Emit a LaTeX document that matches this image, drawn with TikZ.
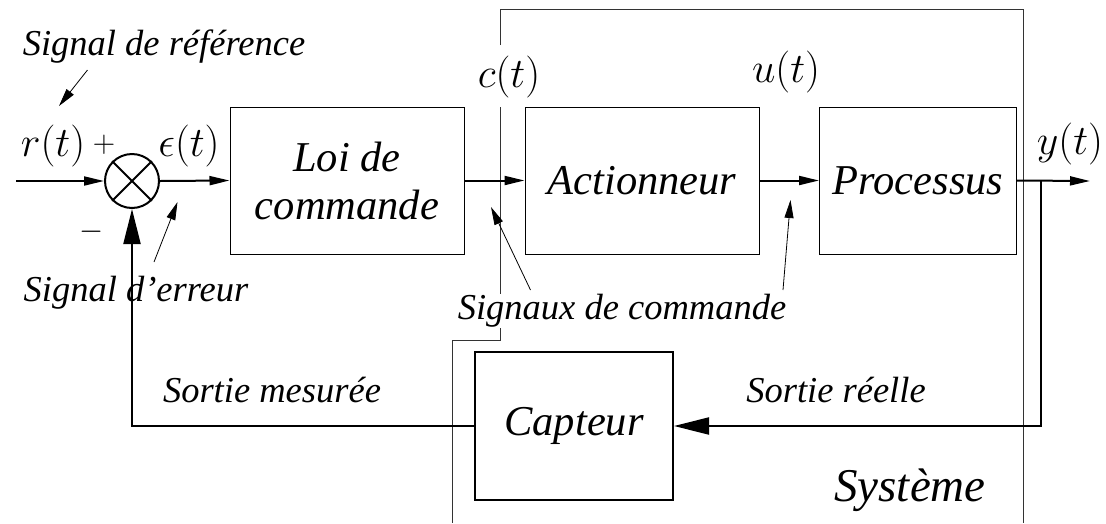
\documentclass[tikz,border=0pt]{standalone}
\usepackage{fix-cm}
\usepackage[no-math]{fontspec}
\newfontfamily\timesf{Liberation Serif}
\usetikzlibrary{arrows.meta}
\begin{document}
\begin{tikzpicture}[x=1pt,y=-1pt,
  blk/.style={draw, line width=1pt, inner sep=0pt, align=center,
    font=\fontsize{42.5}{48}\selectfont\timesf\itshape},
  lbl/.style={inner sep=0pt, font=\fontsize{36.5}{40}\selectfont\timesf\itshape},
  mlbl/.style={inner sep=0pt, font=\fontsize{42}{48}\selectfont},
  sgn/.style={inner sep=0pt, font=\fontsize{31}{34}\selectfont},
  fwd/.style={line width=2pt, -{Triangle[length=20pt,width=9pt]}},
  fbk/.style={line width=2pt, -{Triangle[length=35pt,width=17pt]}},
  note/.style={line width=0.8pt, -{Triangle[length=18pt,width=9pt]}},
  sys/.style={line width=1pt, draw=black!80}]
\useasboundingbox (0,0) rectangle (1106,523);

% system boundary
\draw[sys] (500,45) -- (500,9) -- (1023,9) -- (1023,523);
\draw[sys] (500,107) -- (500,340) -- (452,340) -- (452,523);

% blocks
\node[draw, circle, line width=2pt, minimum size=54pt, inner sep=0pt] (sum) at (132,181) {};
\draw[line width=2pt] (sum.north west) -- (sum.south east) (sum.north east) -- (sum.south west);
\node[blk, minimum width=234pt, minimum height=147pt] (loi) at (347,180.5) {Loi de\\commande};
\node[blk, minimum width=234pt, minimum height=147pt] (act) at (642,180.5) {Actionneur};
\node[blk, minimum width=197pt, minimum height=147pt] (proc) at (918,180.5) {Processus};
\node[blk, line width=2pt, minimum width=198pt, minimum height=148pt] (capt) at (574,426) {Capteur};

% signal labels
\node[mlbl] (r) at (53,146) {$r(t)$};
\node[sgn] (plus) at (104,145) {$+$};
\node[sgn] (minus) at (92,232) {$-$};
\node[mlbl] (eps) at (189,146) {$\epsilon(t)$};
\node[mlbl] (c) at (509,77) {$c(t)$};
\node[mlbl] (u) at (786,72) {$u(t)$};
\node[mlbl] (y) at (1070,144) {$y(t)$};

% text labels
\node[lbl] (tref) at (164,47) {Signal de référence};
\node[lbl] (terr) at (136,293) {Signal d’erreur};
\node[lbl, fill=white] (tcmd) at (622,311) {Signaux de commande};
\node[lbl] (tmes) at (272,390) {Sortie mesurée};
\node[lbl] (treel) at (836,390) {Sortie réelle};
\node[inner sep=0pt, font=\fontsize{47}{52}\selectfont\timesf\itshape] (tsys) at (910,490) {Système};

% coordinates
\coordinate (in) at (16,181);
\coordinate (out) at (1090,181);
\coordinate (br) at (1041,181);
\coordinate (brd) at (1041,426);
\coordinate (fbl) at (132,426);
\coordinate (refs) at (87.5,70);
\coordinate (refe) at (59,106);
\coordinate (errs) at (154,262);
\coordinate (erre) at (177.5,202);
\coordinate (cs) at (530.5,290);
\coordinate (ce) at (491,207);
\coordinate (us) at (783,290);
\coordinate (ue) at (790.5,200);

% connectors
\draw[fwd] (in) -- (sum.west);
\draw[fwd] (sum.east) -- (loi.west);
\draw[fwd] (loi.east) -- (act.west);
\draw[fwd] (act.east) -- (proc.west);
\draw[fwd] (proc.east) -- (out);
\draw[fbk] (br) -- (brd) -- (capt.east);
\draw[fbk] (capt.west) -- (fbl) -- (sum.south);

% annotation arrows
\draw[note] (refs) -- (refe);
\draw[note] (errs) -- (erre);
\draw[note] (cs) -- (ce);
\draw[note] (us) -- (ue);
\end{tikzpicture}
\end{document}
